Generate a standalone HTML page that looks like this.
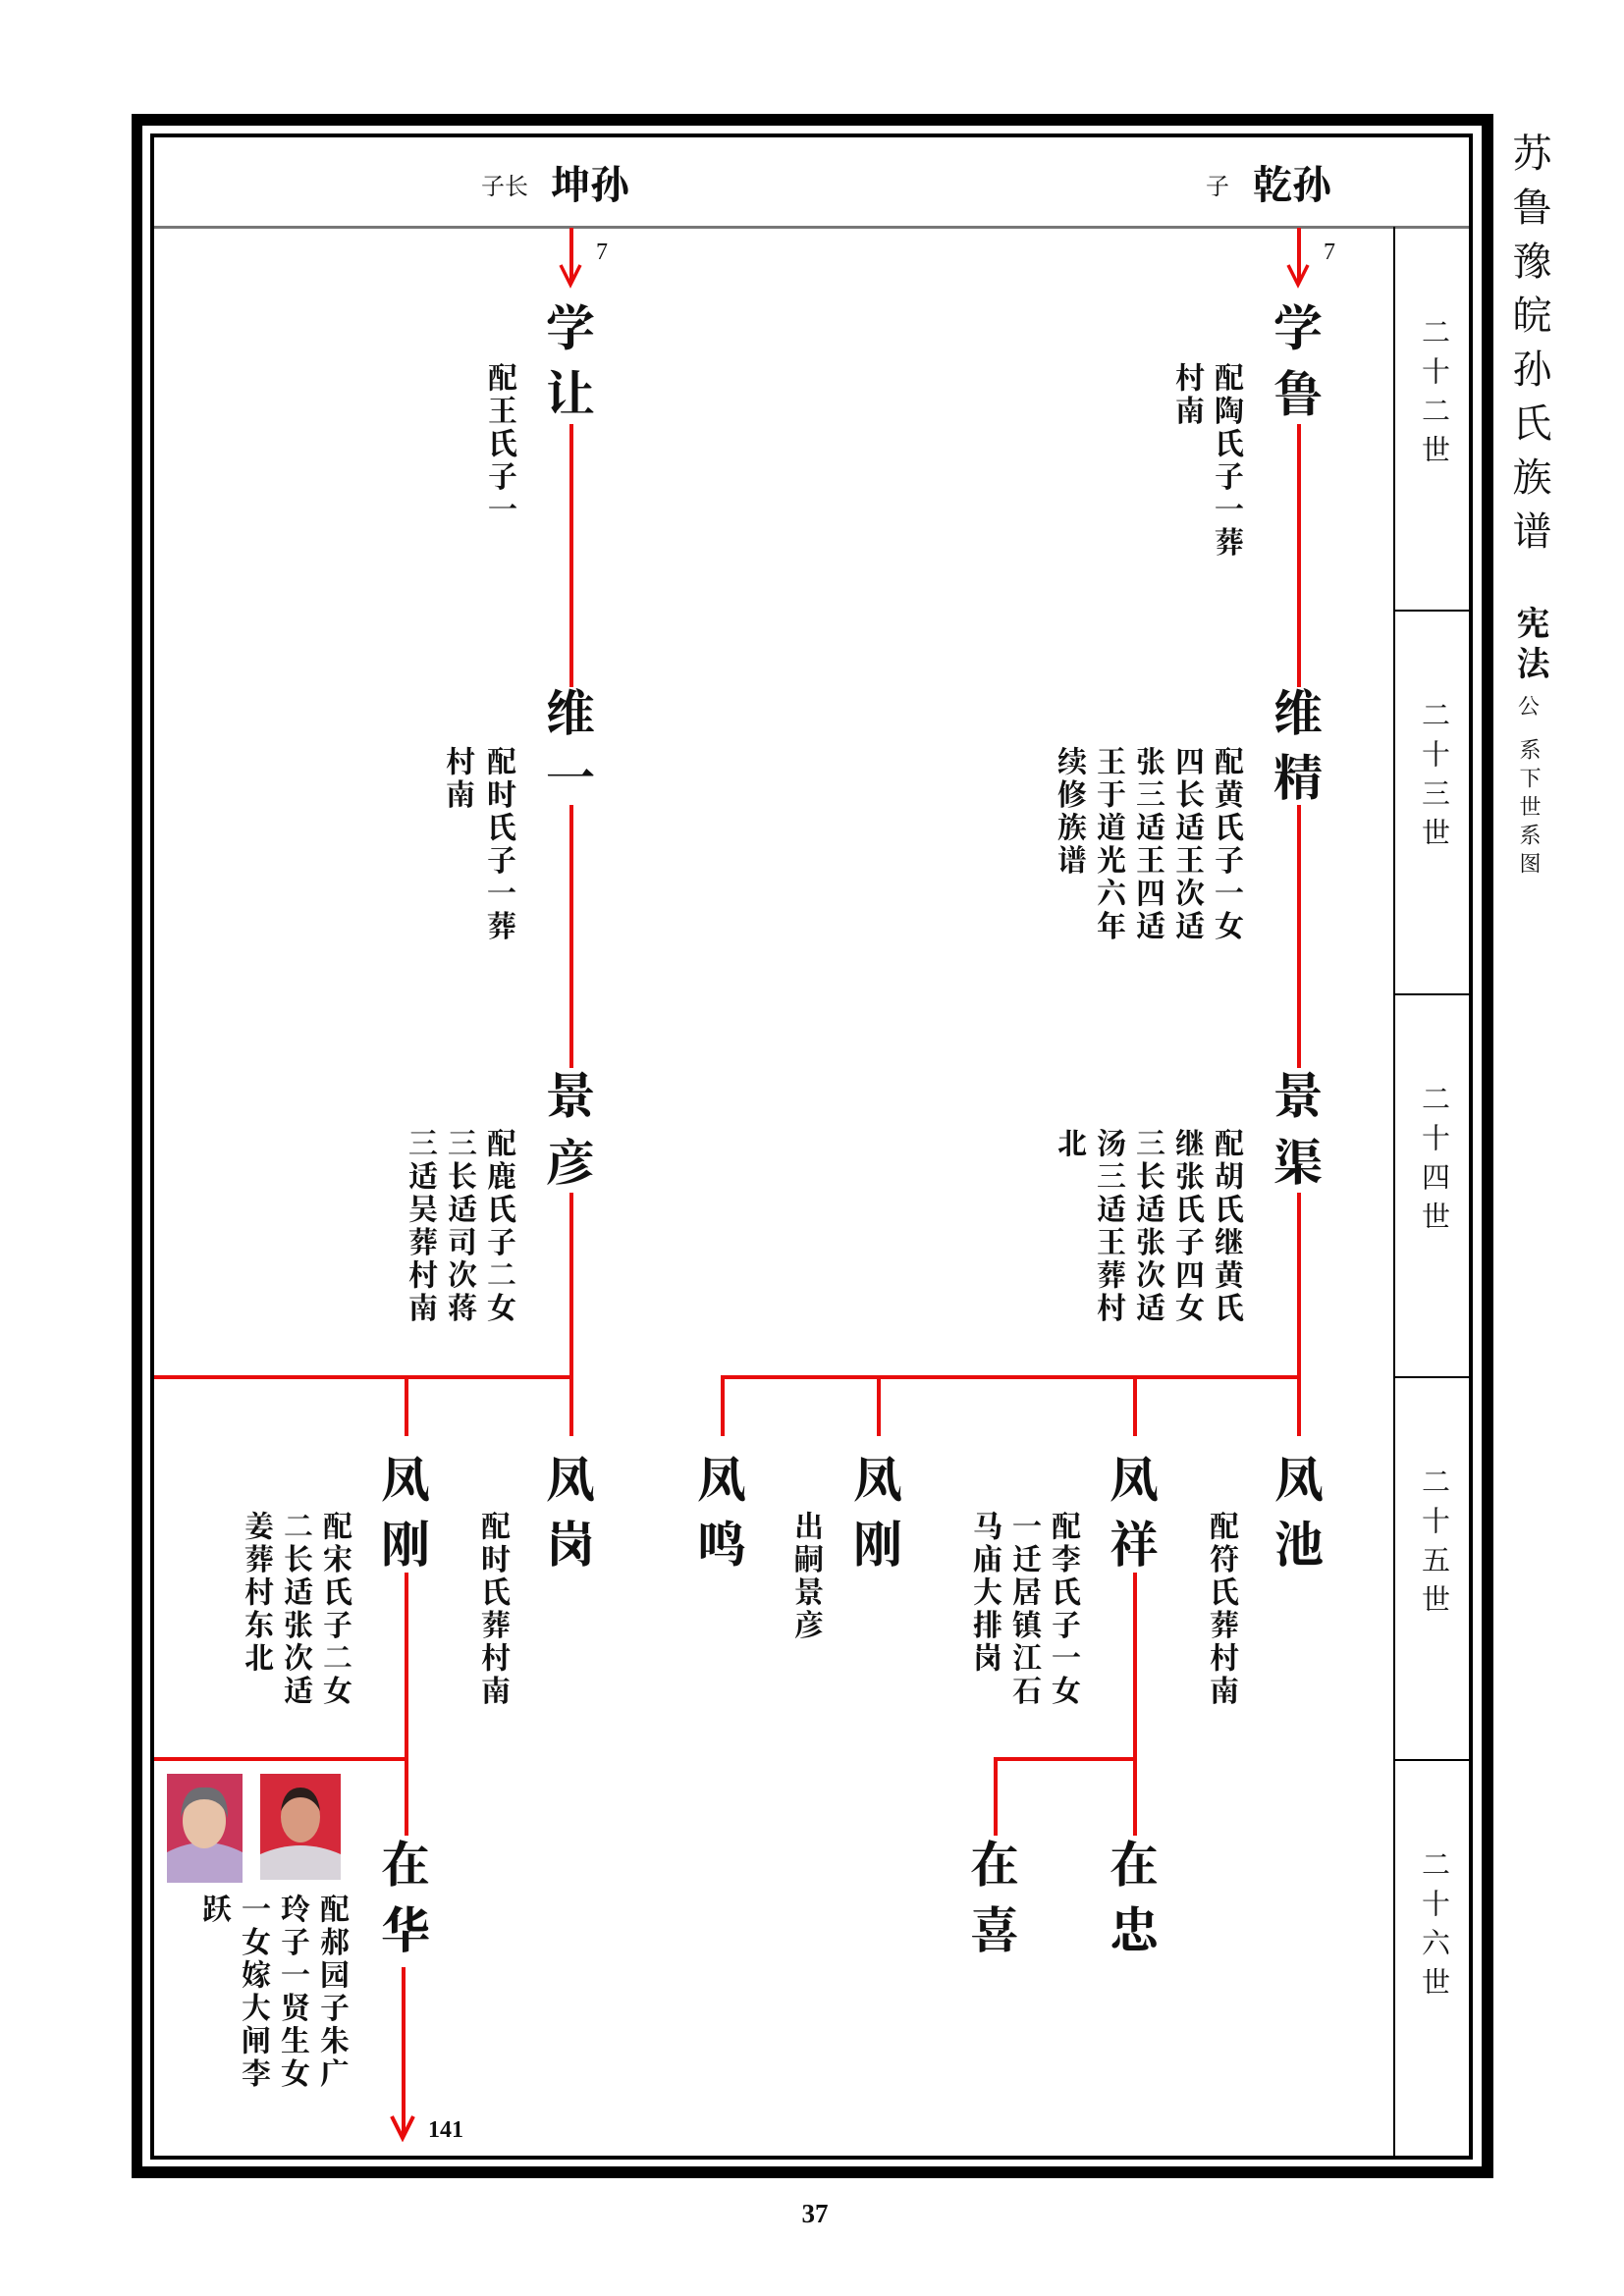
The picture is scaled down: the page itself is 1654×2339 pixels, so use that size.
<!DOCTYPE html>
<html><head><meta charset="utf-8"><style>
html,body{margin:0;padding:0;background:#fff}
body{width:1654px;height:2339px;position:relative;overflow:hidden;font-family:"Liberation Serif","Noto Serif CJK SC",serif;color:#111}
.b{position:absolute;background:#000}
.r{position:absolute;background:#e80c0c}
.c{position:absolute;width:56px;height:56px;margin-left:-28px;margin-top:-28px;font-size:50px;line-height:56px;text-align:center;font-weight:bold}
.a{position:absolute;writing-mode:vertical-rl;font-size:30px;line-height:30px;width:30px;margin-left:-15px;margin-top:-15px;letter-spacing:3.5px;font-weight:bold;white-space:nowrap}
.g{position:absolute;writing-mode:vertical-rl;font-size:29px;line-height:29px;width:29px;margin-left:-14px;letter-spacing:11px;left:1459px}
</style></head><body>
<!-- frames -->
<div class="b" style="left:134px;top:116px;width:1387px;height:12px"></div>
<div class="b" style="left:134px;top:2207px;width:1387px;height:12px"></div>
<div class="b" style="left:134px;top:116px;width:11px;height:2103px"></div>
<div class="b" style="left:1509px;top:116px;width:12px;height:2103px"></div>
<div class="b" style="left:153px;top:136px;width:1347px;height:4px"></div>
<div class="b" style="left:153px;top:2196px;width:1347px;height:4px"></div>
<div class="b" style="left:153px;top:136px;width:4px;height:2064px"></div>
<div class="b" style="left:1496px;top:136px;width:4px;height:2064px"></div>
<div style="position:absolute;left:157px;top:230px;width:1339px;height:3px;background:#777"></div>
<div class="b" style="left:1419px;top:231px;width:2px;height:1967px"></div>
<div class="b" style="left:1419px;top:621px;width:79px;height:2px"></div>
<div class="b" style="left:1419px;top:1012px;width:79px;height:2px"></div>
<div class="b" style="left:1419px;top:1402px;width:79px;height:2px"></div>
<div class="b" style="left:1419px;top:1792px;width:79px;height:2px"></div>
<!-- gen labels -->
<div class="g" style="top:323px">二十二世</div>
<div class="g" style="top:713px">二十三世</div>
<div class="g" style="top:1104px">二十四世</div>
<div class="g" style="top:1494px">二十五世</div>
<div class="g" style="top:1884px">二十六世</div>
<!-- title -->
<div style="position:absolute;left:1535px;top:135px;width:44px;writing-mode:vertical-rl;font-size:40px;line-height:44px;letter-spacing:15px">苏鲁豫皖孙氏族谱</div>
<div style="position:absolute;left:1540px;top:617px;width:34px;writing-mode:vertical-rl;font-size:34px;line-height:34px;letter-spacing:7px;font-weight:bold">宪法</div>
<div style="position:absolute;left:1545px;top:708px;width:24px;font-size:22px;line-height:24px;text-align:center">公</div>
<div style="position:absolute;left:1546px;top:752px;width:22px;writing-mode:vertical-rl;font-size:22px;line-height:22px;letter-spacing:7px">系下世系图</div>
<!-- header -->
<div style="position:absolute;left:490px;top:178px;font-size:24px;line-height:26px">子长</div>
<div style="position:absolute;left:561px;top:166px;font-size:40px;line-height:46px;font-weight:bold">坤孙</div>
<div style="position:absolute;left:1228px;top:178px;font-size:24px;line-height:26px">子</div>
<div style="position:absolute;left:1276px;top:166px;font-size:40px;line-height:46px;font-weight:bold">乾孙</div>
<!-- top arrows -->
<div class="r" style="left:580px;top:232px;width:4px;height:56px"></div>
<svg style="position:absolute;left:569px;top:268px" width="26" height="26"><polyline points="2,2 12,22 22,2" fill="none" stroke="#e80c0c" stroke-width="3.5"/></svg>
<div style="position:absolute;left:607px;top:244px;font-size:24px">7</div>
<div class="r" style="left:1321px;top:232px;width:4px;height:56px"></div>
<svg style="position:absolute;left:1310px;top:268px" width="26" height="26"><polyline points="2,2 12,22 22,2" fill="none" stroke="#e80c0c" stroke-width="3.5"/></svg>
<div style="position:absolute;left:1348px;top:244px;font-size:24px">7</div>
<!-- left trunk -->
<div class="r" style="left:580px;top:432px;width:4px;height:268px"></div>
<div class="r" style="left:580px;top:820px;width:4px;height:268px"></div>
<div class="r" style="left:580px;top:1215px;width:4px;height:248px"></div>
<div class="r" style="left:157px;top:1401px;width:427px;height:4px"></div>
<div class="r" style="left:412px;top:1401px;width:4px;height:62px"></div>
<div class="r" style="left:412px;top:1602px;width:4px;height:268px"></div>
<div class="r" style="left:157px;top:1790px;width:259px;height:4px"></div>
<div class="r" style="left:409px;top:2004px;width:4px;height:172px"></div>
<svg style="position:absolute;left:397px;top:2154px" width="28" height="28"><polyline points="2,2 13,24 24,2" fill="none" stroke="#e80c0c" stroke-width="4"/></svg>
<div style="position:absolute;left:436px;top:2157px;font-size:24px;font-weight:bold">141</div>
<!-- right trunk -->
<div class="r" style="left:1321px;top:432px;width:4px;height:268px"></div>
<div class="r" style="left:1321px;top:820px;width:4px;height:268px"></div>
<div class="r" style="left:1321px;top:1215px;width:4px;height:248px"></div>
<div class="r" style="left:734px;top:1401px;width:591px;height:4px"></div>
<div class="r" style="left:734px;top:1401px;width:4px;height:62px"></div>
<div class="r" style="left:893px;top:1401px;width:4px;height:62px"></div>
<div class="r" style="left:1154px;top:1401px;width:4px;height:62px"></div>
<div class="r" style="left:1154px;top:1602px;width:4px;height:268px"></div>
<div class="r" style="left:1012px;top:1790px;width:146px;height:4px"></div>
<div class="r" style="left:1012px;top:1790px;width:4px;height:80px"></div>
<!-- nodes -->
<div class="c" style="left:581px;top:335px">学</div><div class="c" style="left:581px;top:402px">让</div>
<div class="c" style="left:581px;top:727px">维</div><div class="c" style="left:581px;top:793px">一</div>
<div class="c" style="left:581px;top:1117px">景</div><div class="c" style="left:581px;top:1185px">彦</div>
<div class="c" style="left:1322px;top:335px">学</div><div class="c" style="left:1322px;top:402px">鲁</div>
<div class="c" style="left:1322px;top:727px">维</div><div class="c" style="left:1322px;top:793px">精</div>
<div class="c" style="left:1322px;top:1117px">景</div><div class="c" style="left:1322px;top:1185px">渠</div>
<div class="c" style="left:413px;top:1508px">凤</div><div class="c" style="left:413px;top:1574px">刚</div>
<div class="c" style="left:581px;top:1508px">凤</div><div class="c" style="left:581px;top:1574px">岗</div>
<div class="c" style="left:735px;top:1508px">凤</div><div class="c" style="left:735px;top:1574px">鸣</div>
<div class="c" style="left:894px;top:1508px">凤</div><div class="c" style="left:894px;top:1574px">刚</div>
<div class="c" style="left:1155px;top:1508px">凤</div><div class="c" style="left:1155px;top:1574px">祥</div>
<div class="c" style="left:1323px;top:1508px">凤</div><div class="c" style="left:1323px;top:1574px">池</div>
<div class="c" style="left:413px;top:1900px">在</div><div class="c" style="left:413px;top:1967px">华</div>
<div class="c" style="left:1013px;top:1900px">在</div><div class="c" style="left:1013px;top:1967px">喜</div>
<div class="c" style="left:1155px;top:1900px">在</div><div class="c" style="left:1155px;top:1967px">忠</div>
<!-- annotations -->
<div class="a" style="left:508px;top:384px">配王氏子一</div>
<div class="a" style="left:1248px;top:384px">配陶氏子一葬</div>
<div class="a" style="left:1208px;top:384px">村南</div>
<div class="a" style="left:507px;top:775px">配时氏子一葬</div>
<div class="a" style="left:465px;top:775px">村南</div>
<div class="a" style="left:1248px;top:775px">配黄氏子一女</div>
<div class="a" style="left:1208px;top:775px">四长适王次适</div>
<div class="a" style="left:1168px;top:775px">张三适王四适</div>
<div class="a" style="left:1128px;top:775px">王于道光六年</div>
<div class="a" style="left:1088px;top:775px">续修族谱</div>
<div class="a" style="left:507px;top:1164px">配鹿氏子二女</div>
<div class="a" style="left:467px;top:1164px">三长适司次蒋</div>
<div class="a" style="left:427px;top:1164px">三适吴葬村南</div>
<div class="a" style="left:1248px;top:1164px">配胡氏继黄氏</div>
<div class="a" style="left:1208px;top:1164px">继张氏子四女</div>
<div class="a" style="left:1168px;top:1164px">三长适张次适</div>
<div class="a" style="left:1128px;top:1164px">汤三适王葬村</div>
<div class="a" style="left:1088px;top:1164px">北</div>
<div class="a" style="left:340px;top:1554px">配宋氏子二女</div>
<div class="a" style="left:300px;top:1554px">二长适张次适</div>
<div class="a" style="left:260px;top:1554px">姜葬村东北</div>
<div class="a" style="left:501px;top:1554px">配时氏葬村南</div>
<div class="a" style="left:820px;top:1554px">出嗣景彦</div>
<div class="a" style="left:1082px;top:1554px">配李氏子一女</div>
<div class="a" style="left:1042px;top:1554px">一迁居镇江石</div>
<div class="a" style="left:1002px;top:1554px">马庙大排岗</div>
<div class="a" style="left:1243px;top:1554px">配符氏葬村南</div>
<div class="a" style="left:337px;top:1944px">配郝园子朱广</div>
<div class="a" style="left:297px;top:1944px">玲子一贤生女</div>
<div class="a" style="left:257px;top:1944px">一女嫁大闸李</div>
<div class="a" style="left:217px;top:1944px">跃</div>
<!-- photos -->
<svg style="position:absolute;left:170px;top:1807px" width="77" height="111">
<rect width="77" height="111" fill="#c9365a"/>
<path d="M0,111 L0,80 Q38,60 77,80 L77,111Z" fill="#b9a3cf"/>
<ellipse cx="38" cy="48" rx="22" ry="28" fill="#e7c2a8"/>
<path d="M14,45 Q16,12 38,14 Q62,12 62,45 Q56,26 38,26 Q20,26 14,45Z" fill="#6e6d72"/>
</svg>
<svg style="position:absolute;left:265px;top:1807px" width="82" height="108">
<rect width="82" height="108" fill="#d5293a"/>
<path d="M0,108 L0,82 Q41,64 82,82 L82,108Z" fill="#d8d3da"/>
<ellipse cx="41" cy="44" rx="20" ry="26" fill="#d89a80"/>
<path d="M21,38 Q24,14 41,14 Q58,14 61,38 Q54,24 41,24 Q28,24 21,38Z" fill="#2b1e1b"/>
</svg>
<div style="position:absolute;left:800px;top:2240px;width:60px;text-align:center;font-size:27px;font-weight:bold">37</div>
</body></html>
